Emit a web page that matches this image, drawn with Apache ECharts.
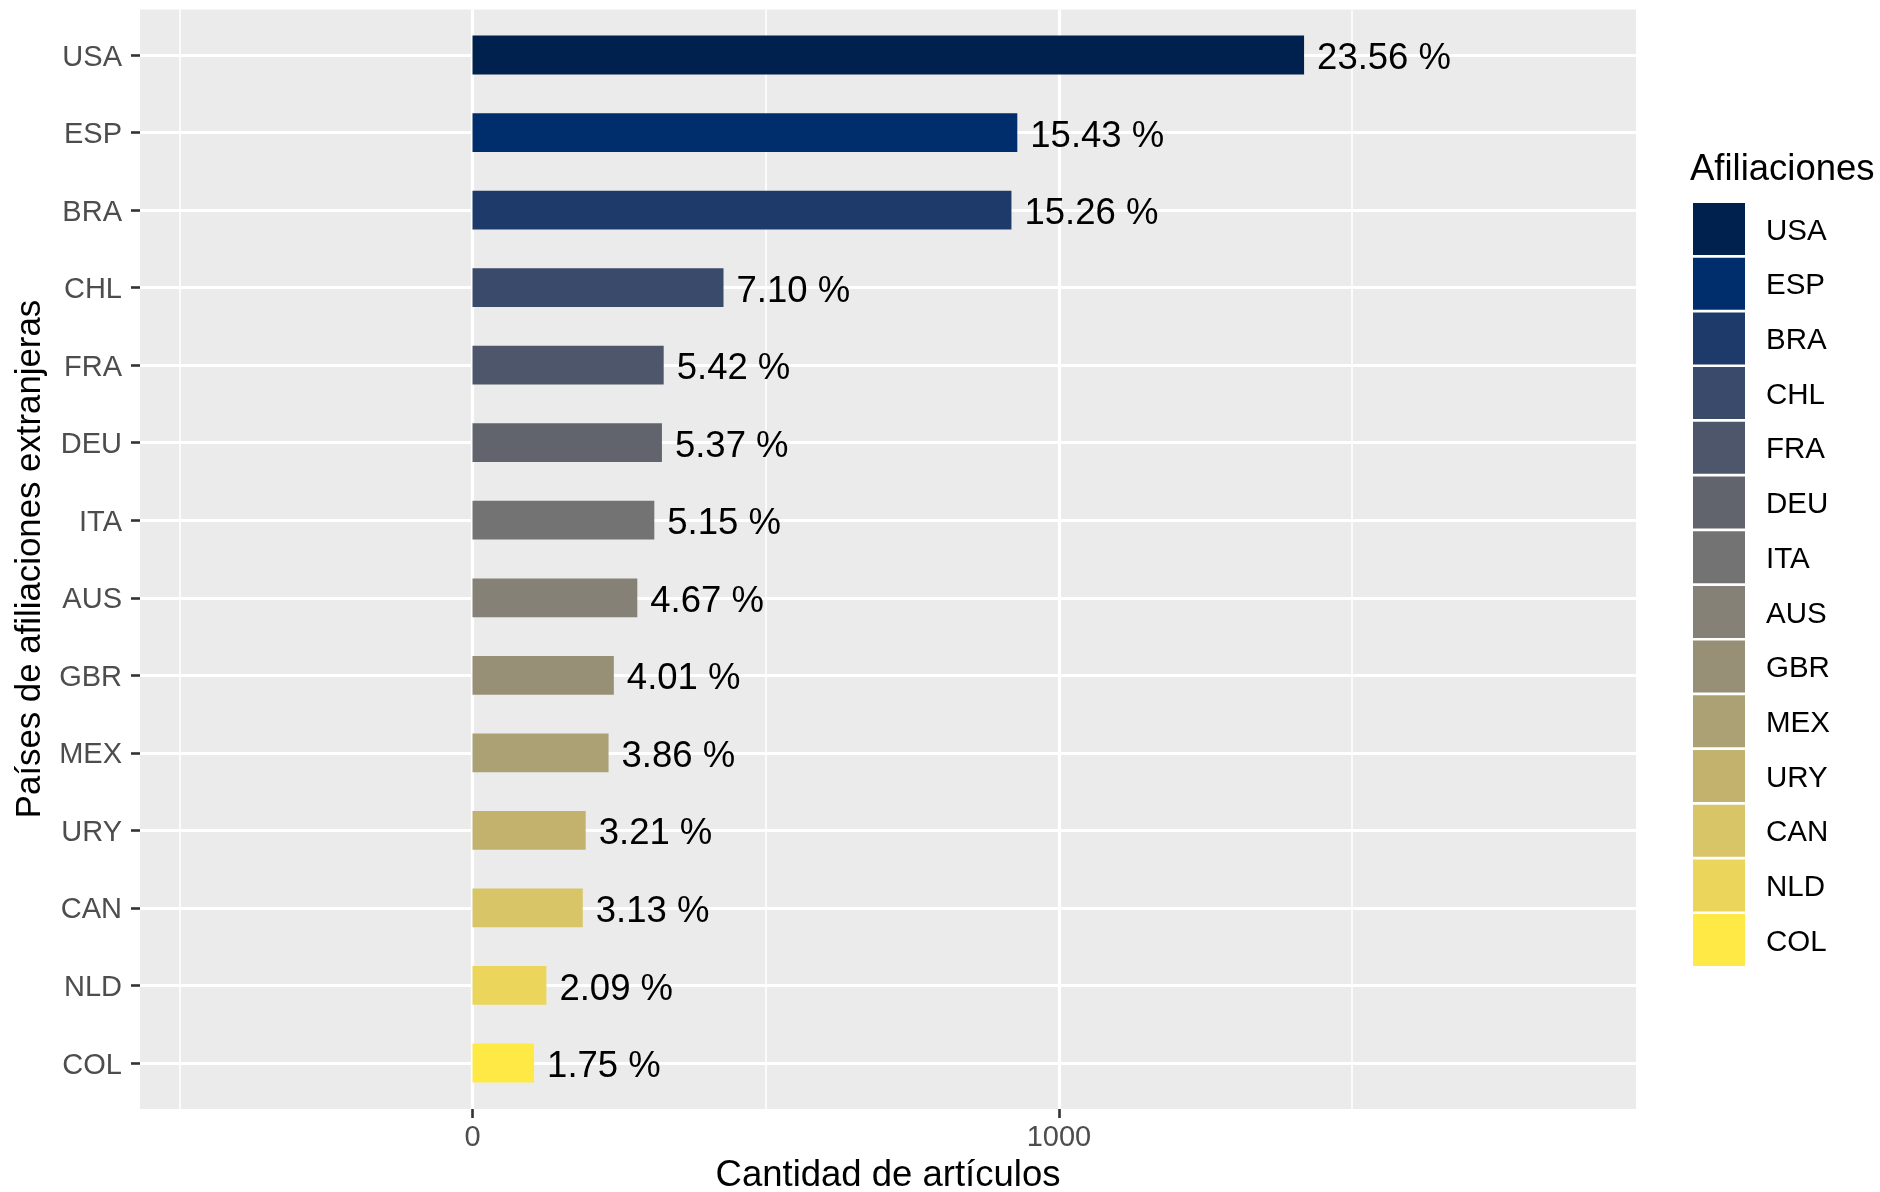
<!DOCTYPE html>
<html>
<head>
<meta charset="utf-8">
<script src="https://cdn.jsdelivr.net/npm/echarts@6/dist/echarts.min.js"></script>
<style>
  html, body { margin: 0; padding: 0; background: #ffffff; }
  #chart { width: 1880px; height: 1192px; }
</style>
</head>
<body>
<div id="chart"></div>
<script>
// ---- data ----
const categories = ['USA', 'ESP', 'BRA', 'CHL', 'FRA', 'DEU', 'ITA', 'AUS', 'GBR', 'MEX', 'URY', 'CAN', 'NLD', 'COL'];
const counts = [1418, 929, 919, 428, 326, 323, 310, 281, 241, 232, 193, 188, 126, 105];
const pctLabels = ['23.56', '15.43', '15.26', '7.10', '5.42', '5.37', '5.15', '4.67', '4.01', '3.86', '3.21', '3.13', '2.09', '1.75'];
const colors = ['#00204D', '#002D6C', '#1E3A6A', '#3A4A6B', '#4D566B', '#62646D', '#737373', '#858176', '#988F77', '#ACA174', '#C2B26D', '#D7C567', '#EBD55A', '#FFE945'];
const xTickValues = [0, 1000];
const xMinorGrid = [-500, 500, 1500];
const xRange = [-567, 1984];

// ---- layout ----
const FONT = 'Liberation Sans';
const panel = { left: 140, top: 9.5, right: 1636, bottom: 1109 };
const firstCenter = 55, lastCenter = 1063;

const chart = echarts.init(document.getElementById('chart'), null, { renderer: 'canvas' });

const gridMarks = [];
xTickValues.forEach(v => gridMarks.push({ xAxis: v, lineStyle: { color: '#ffffff', width: 3.2, type: 'solid' } }));
xMinorGrid.forEach(v => gridMarks.push({ xAxis: v, lineStyle: { color: '#ffffff', width: 1.6, type: 'solid' } }));

const series = [{
  type: 'line',
  xAxisIndex: 0,
  yAxisIndex: 0,
  data: [],
  silent: true,
  z: 1,
  markLine: {
    silent: true,
    symbol: 'none',
    z: 1,
    label: { show: false },
    data: gridMarks
  }
}];

categories.forEach((name, i) => {
  series.push({
    name: name,
    type: 'bar',
    xAxisIndex: 1,
    yAxisIndex: 1,
    stack: 'all',
    barWidth: '50%',
    z: 3,
    itemStyle: { color: colors[i] },
    label: {
      show: true,
      position: 'right',
      distance: 13,
      offset: [0, 4],
      fontFamily: FONT,
      fontSize: 36.5,
      color: '#000000',
      formatter: () => pctLabels[i] + ' %'
    },
    data: categories.map((c, j) => (j === i ? counts[i] : '-'))
  });
});

const option = {
  animation: false,
  backgroundColor: '#ffffff',
  textStyle: { fontFamily: FONT },
  grid: [
    {
      left: panel.left, top: panel.top,
      width: panel.right - panel.left, height: panel.bottom - panel.top,
      show: true, backgroundColor: '#EBEBEB', borderWidth: 0, containLabel: false,
      outerBoundsMode: 'none'
    },
    {
      left: panel.left, top: firstCenter,
      width: panel.right - panel.left, height: lastCenter - firstCenter,
      show: false, containLabel: false,
      outerBoundsMode: 'none'
    }
  ],
  xAxis: [
    {
      type: 'value', gridIndex: 0, min: xRange[0], max: xRange[1],
      axisLine: { show: false, onZero: false },
      axisTick: { show: true, length: 9, customValues: xTickValues, lineStyle: { color: '#333333', width: 2.6 } },
      axisLabel: { show: true, customValues: xTickValues, fontSize: 29, color: '#4D4D4D', margin: 14, fontFamily: FONT,
                   formatter: v => String(v) },
      splitLine: { show: false },
      name: 'Cantidad de artículos',
      nameLocation: 'middle',
      nameGap: 48,
      nameTextStyle: { fontSize: 36.5, color: '#000000', fontFamily: FONT }
    },
    {
      type: 'value', gridIndex: 1, min: xRange[0], max: xRange[1], show: false,
      axisLine: { onZero: false },
      splitLine: { show: false }
    }
  ],
  yAxis: [
    { type: 'value', gridIndex: 0, min: 0, max: 1, show: false, axisLine: { onZero: false }, splitLine: { show: false } },
    {
      type: 'category', gridIndex: 1, data: categories, inverse: true, boundaryGap: false,
      axisLine: { show: false, onZero: false },
      axisTick: { show: true, length: 9, lineStyle: { color: '#333333', width: 2.6 } },
      axisLabel: {
        fontSize: 29, color: '#4D4D4D', margin: 18, fontFamily: FONT,
        formatter: v => '{a|' + v + '}',
        rich: { a: { fontSize: 29, color: '#4D4D4D', fontFamily: FONT, padding: [5, 0, 0, 0] } }
      },
      splitLine: { show: true, lineStyle: { color: '#ffffff', width: 3.2 } },
      name: 'Países de afiliaciones extranjeras',
      nameLocation: 'middle',
      nameRotate: 90,
      nameGap: 92,
      nameTextStyle: { fontSize: 34.8, color: '#000000', fontFamily: FONT }
    }
  ],
  legend: {
    orient: 'vertical',
    left: 1693,
    top: 203,
    padding: 0,
    itemWidth: 52,
    itemHeight: 52,
    itemGap: 2.7,
    icon: 'rect',
    data: categories,
    formatter: n => '{a|' + n + '}',
    textStyle: {
      fontSize: 29.5, color: '#000000', fontFamily: FONT,
      rich: { a: { fontSize: 29.5, color: '#000000', fontFamily: FONT, padding: [5, 0, 0, 16] } }
    }
  },
  graphic: [{
    type: 'text',
    left: 1690,
    top: 151,
    style: { text: 'Afiliaciones', fontSize: 36.5, fill: '#000000', fontFamily: FONT }
  }],
  series: series
};

chart.setOption(option);
</script>
</body>
</html>
